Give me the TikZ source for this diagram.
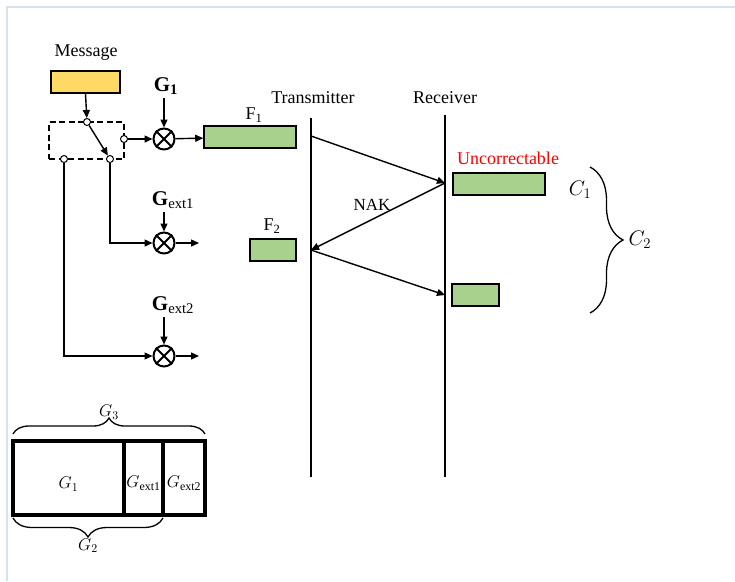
\RequirePackage{fix-cm}
\documentclass[tikz,border=0pt]{standalone}
\usepackage{fontspec}
\setmainfont{Liberation Serif}
\usepackage{amsmath}
\usepackage{xcolor}
\usepackage{tikz}
\usetikzlibrary{
	arrows.meta,
	calc,
	positioning,
	decorations.pathreplacing
}
\definecolor{MsgYellow}{RGB}{255,217,102}
\definecolor{FrameGreen}{RGB}{169,209,142}
\definecolor{EdgeBlue}{RGB}{214,226,240}

\tikzset{
	lbl/.style={font=\fontsize{18}{20}\selectfont,inner sep=0pt},
	mlbl/.style={font=\fontsize{21}{23}\selectfont,inner sep=0pt},
	small/.style={font=\fontsize{17}{19}\selectfont,inner sep=0pt},
	frame/.style={draw,line width=1.6pt,fill=FrameGreen,inner sep=0pt,minimum height=22pt},
	port/.style={circle,draw,fill=white,line width=1pt,minimum size=7pt,inner sep=0pt},
	mixer/.style={circle,draw,line width=2pt,minimum size=21pt,inner sep=0pt},
	sig/.style={line width=1.4pt,-{Triangle[length=8pt,width=7pt]}},
	wire/.style={line width=1.4pt},
	cw/.style={draw,line width=4.5pt,inner sep=0pt,minimum height=74pt},
	brc/.style={decorate,line width=1.3pt}
}

\begin{document}
\begin{tikzpicture}[x=1pt,y=-1pt]
		\useasboundingbox (0,0) rectangle (735,581);
		\draw[EdgeBlue,line width=1.5pt] (7,581)--(7,7)--(735,7);
		
		% 编码器
		\node[lbl] (msglbl) at (86,53) {Message};
		\node[draw,line width=1.6pt,fill=MsgYellow,minimum width=69pt,minimum height=22pt] (msg) at (85.5,82) {};
		\node[draw,dash pattern=on 6pt off 3.5pt,line width=1.2pt,minimum width=75pt,minimum height=37pt] (sw) at (86.5,140.5) {};
		\node[port] (p1) at (87,122) {};
		\node[port] (p2) at (124,139) {};
		\node[port] (p3) at (64,159) {};
		\node[port] (p4) at (110,159) {};
		\draw[sig] (msg.south) -- (p1);
		\draw[sig] (p1) -- (p4);
		
		%乘法器
		\foreach \n/\y in {m1/139,m2/243,m3/356}{
			\node[mixer] (\n) at (164,\y) {};
			\draw[line width=2pt] (\n.45) -- (\n.225) (\n.135) -- (\n.315);
		}
		\node[mlbl] (g1) at (166,86) {$\mathbf{G_1}$};
		\node[mlbl] (ge1) at (173,200) {$\mathbf{G}_{\mathrm{ext1}}$};
		\node[mlbl] (ge2) at (173,305) {$\mathbf{G}_{\mathrm{ext2}}$};
		\draw[sig] ([yshift=-3pt]g1.south -| m1) -- (m1);
		\draw[sig] ([yshift=-3pt]ge1.south -| m2) -- (m2);
		\draw[sig] ([yshift=-3pt]ge2.south -| m3) -- (m3);
		\draw[sig] (p2) -- (m1);
		\draw[sig] (p4) |- (m2);
		\draw[sig] (p3) |- (m3);
		\coordinate (o2) at (199,243);
		\coordinate (o3) at (199,356);
		\draw[sig] (m2) -- (o2);
		\draw[sig] (m3) -- (o3);
		
		%帧
		\node[frame,minimum width=92pt] (f1) at (250,137) {};
		\node[frame,minimum width=46pt] (f2) at (273,250) {};
		\node[frame,minimum width=92pt] (r1) at (499,184) {};
		\node[frame,minimum width=47pt] (r2) at (475.5,295) {};
		\node[lbl] (f1lbl) at (254,115) {F\textsubscript{1}};
		\node[lbl] (f2lbl) at (272,226) {F\textsubscript{2}};
		\draw[sig] (m1) -- (f1);
		
		% 收发两端
		\node[lbl] (tx) at (313,98) {Transmitter};
		\node[lbl] (rx) at (445,98) {Receiver};
		\coordinate (txtop) at (311,118);
		\coordinate (txbot) at (311,477);
		\coordinate (rxtop) at (445,115);
		\coordinate (rxbot) at (445,477);
		\draw[line width=1.8pt] (txtop) -- (txbot);
		\draw[line width=1.8pt] (rxtop) -- (rxbot);
		\coordinate (a1) at (311,136);
		\coordinate (b1) at (445,183);
		\coordinate (a2) at (311,250);
		\coordinate (b2) at (445,295);
		\draw[sig] (a1) -- (b1);
		\draw[sig] (b1) -- (a2);
		\draw[sig] (a2) -- (b2);
		\node[lbl,font=\fontsize{17}{19}\selectfont] (nak) at (372,205) {NAK};
		\node[lbl,text=red] (unc) at (508,158) {Uncorrectable};
		
		%大括号
		\node[mlbl] (c1) at (580,190) {$C_1$};
		\draw[brc,decoration={brace,amplitude=33pt}] (590,167) -- (590,313)
			node[mlbl,midway,right=38pt] (c2) {$C_2$};
		
		% 码字结构
		\node[cw,minimum width=111pt] (cg1) at (68.5,478) {};
		\node[cw,minimum width=39pt] (ce1) at (143.5,478) {};
		\node[cw,minimum width=42pt] (ce2) at (184,478) {};
		\node[small] at ([yshift=-6pt]cg1.center) {$G_1$};
		\node[small] at ([yshift=-5pt]ce1.center) {$G_{\mathrm{ext1}}$};
		\node[small] at ([yshift=-5pt]ce2.center) {$G_{\mathrm{ext2}}$};
		\draw[brc,decoration={brace,amplitude=16pt}] (13,434) -- (205,434)
			node[small,midway,above=14pt] (g3) {$G_3$};
		\draw[brc,decoration={brace,amplitude=19pt}] (163,518) -- (13,518)
			node[small,midway,below=20pt] (g2) {$G_2$};
	\end{tikzpicture}
\end{document}
